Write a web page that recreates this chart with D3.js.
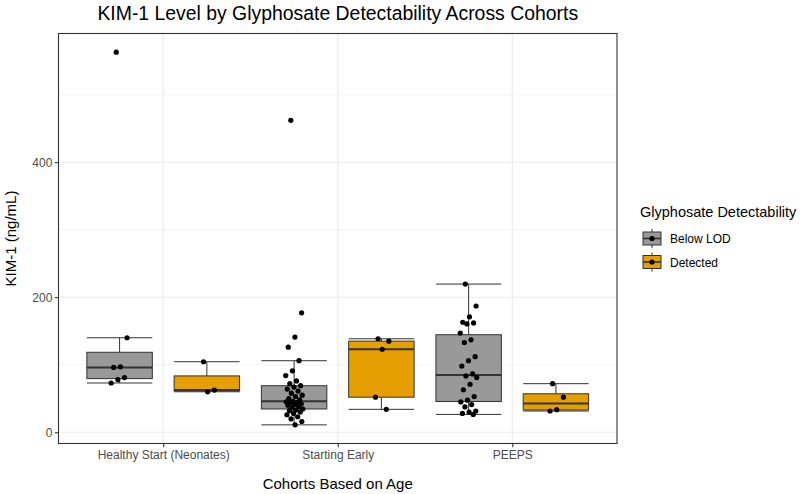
<!DOCTYPE html>
<html>
<head>
<meta charset="utf-8">
<script src="https://cdn.jsdelivr.net/npm/d3@7"></script>
<style>
  html, body { margin: 0; padding: 0; background: #fff; }
  svg { display: block; font-family: "Liberation Sans", Arial, sans-serif; }
</style>
</head>
<body>
<svg id="chart" width="800" height="494"></svg>
<script>
// ---------- data ----------
const cohorts = ["Healthy Start (Neonates)", "Starting Early", "PEEPS"];
const groups = ["Below LOD", "Detected"];
const groupColors = ["#999999", "#E69F00"];

const hsBelow = [563, 140, 97, 96, 81, 78, 73];
const hsDetected = [104.5, 62.5, 60];
const seBelow = [462, 177, 141, 126, 106, 91, 84, 76, 72, 69, 67, 64, 61, 58, 55, 53, 50, 48, 46, 45,
                 44, 43, 42, 41, 40, 38, 36, 34.5, 33, 32, 30, 28, 26, 23, 20, 16, 11];
const seDetected = [138.5, 135, 123, 52, 34];
const peepsBelow = [219.5, 187, 171, 163, 162, 160.5, 147, 137, 133, 112, 106, 98, 86.5, 83.5, 81, 71,
                    63, 53, 47.5, 45, 41, 37.5, 31.5, 30, 28, 26.5];
const peepsDetected = [72, 52, 33.5, 31.5];

const yTicks = [0, 200, 400];
const yMinor = [100, 300, 500];

const title = "KIM-1 Level by Glyphosate Detectability Across Cohorts";
const xTitle = "Cohorts Based on Age";
const yTitle = "KIM-1 (ng/mL)";
const legendTitle = "Glyphosate Detectability";

const series = [
  { cohort: cohorts[0], group: 0, values: hsBelow },
  { cohort: cohorts[0], group: 1, values: hsDetected },
  { cohort: cohorts[1], group: 0, values: seBelow },
  { cohort: cohorts[1], group: 1, values: seDetected },
  { cohort: cohorts[2], group: 0, values: peepsBelow },
  { cohort: cohorts[2], group: 1, values: peepsDetected }
];

// ---------- layout ----------
const svg = d3.select("#chart");
const panel = { left: 58.5, right: 617, top: 33.5, bottom: 443.5 };
const font = "'Liberation Sans', Arial, sans-serif";

const allVals = series.flatMap(s => s.values);
const ext = d3.extent(allVals);
const pad = (ext[1] - ext[0]) * 0.05;
const y = d3.scaleLinear().domain([ext[0] - pad, ext[1] + pad]).range([panel.bottom, panel.top]);

// discrete axis with ggplot's 0.6 expansion
const x = d3.scalePoint().domain(cohorts).range([panel.left, panel.right]).padding(0.6);
const step = x.step();
const dodge = d3.scaleBand().domain(groups.map((g, i) => i)).range([-step / 2, step / 2]);
const boxW = step * 0.375;

// ---------- panel background & grid ----------
svg.append("rect").attr("x", panel.left).attr("y", panel.top)
  .attr("width", panel.right - panel.left).attr("height", panel.bottom - panel.top)
  .attr("fill", "#fff");

const grid = svg.append("g");
grid.selectAll(".minor").data(yMinor).join("line")
  .attr("x1", panel.left).attr("x2", panel.right)
  .attr("y1", d => y(d)).attr("y2", d => y(d))
  .attr("stroke", "#EBEBEB").attr("stroke-width", 0.6);
grid.selectAll(".major").data(yTicks).join("line")
  .attr("x1", panel.left).attr("x2", panel.right)
  .attr("y1", d => y(d)).attr("y2", d => y(d))
  .attr("stroke", "#EBEBEB").attr("stroke-width", 1.1);
grid.selectAll(".vmajor").data(cohorts).join("line")
  .attr("x1", d => x(d)).attr("x2", d => x(d))
  .attr("y1", panel.top).attr("y2", panel.bottom)
  .attr("stroke", "#EBEBEB").attr("stroke-width", 1.1);

// ---------- box stats ----------
function stats(vals) {
  const s = vals.slice().sort(d3.ascending);
  const q1 = d3.quantile(s, 0.25), med = d3.quantile(s, 0.5), q3 = d3.quantile(s, 0.75);
  const iqr = q3 - q1;
  const lo = d3.min(s.filter(v => v >= q1 - 1.5 * iqr));
  const hi = d3.max(s.filter(v => v <= q3 + 1.5 * iqr));
  return { q1, med, q3, lo, hi };
}

const boxes = svg.append("g");
series.forEach(s => {
  const cx = x(s.cohort) + dodge(s.group) + dodge.bandwidth() / 2;
  const st = stats(s.values);
  const g = boxes.append("g");
  g.append("line").attr("x1", cx).attr("x2", cx).attr("y1", y(st.lo)).attr("y2", y(st.hi))
    .attr("stroke", "#333").attr("stroke-width", 1);
  [st.lo, st.hi].forEach(v => {
    g.append("line").attr("x1", cx - boxW / 2).attr("x2", cx + boxW / 2)
      .attr("y1", y(v)).attr("y2", y(v)).attr("stroke", "#333").attr("stroke-width", 1);
  });
  g.append("rect").attr("x", cx - boxW / 2).attr("width", boxW)
    .attr("y", y(st.q3)).attr("height", y(st.q1) - y(st.q3))
    .attr("fill", groupColors[s.group]).attr("stroke", "#333").attr("stroke-width", 1);
  g.append("line").attr("x1", cx - boxW / 2).attr("x2", cx + boxW / 2)
    .attr("y1", y(st.med)).attr("y2", y(st.med)).attr("stroke", "#333").attr("stroke-width", 2);
});

// ---------- jittered points (deterministic spread) ----------
const jitterW = step * 0.05;
const pts = svg.append("g");
series.forEach(s => {
  const cx = x(s.cohort) + dodge(s.group) + dodge.bandwidth() / 2;
  pts.selectAll(null).data(s.values).join("circle")
    .attr("cx", (d, i) => cx + (((i * 0.618034 + 0.31) % 1) - 0.5) * 2 * jitterW)
    .attr("cy", d => y(d))
    .attr("r", 2.6)
    .attr("fill", "#000");
});

// ---------- panel border ----------
svg.append("rect").attr("x", panel.left).attr("y", panel.top)
  .attr("width", panel.right - panel.left).attr("height", panel.bottom - panel.top)
  .attr("fill", "none").attr("stroke", "#333").attr("stroke-width", 1.1);

// ---------- axes ----------
const yAxis = d3.axisLeft(y).tickValues(yTicks).tickSize(3.7).tickPadding(2.5);
const yg = svg.append("g").attr("transform", `translate(${panel.left},0)`).call(yAxis);
yg.select(".domain").remove();
yg.selectAll(".tick line").attr("stroke", "#333").attr("stroke-width", 1.1);
yg.selectAll(".tick text").attr("fill", "#4D4D4D").style("font-size", "12px").style("font-family", font);

const xAxis = d3.axisBottom(x).tickSize(3.7).tickPadding(3);
const xg = svg.append("g").attr("transform", `translate(0,${panel.bottom})`).call(xAxis);
xg.select(".domain").remove();
xg.selectAll(".tick line").attr("stroke", "#333").attr("stroke-width", 1.1);
xg.selectAll(".tick text").attr("fill", "#4D4D4D").style("font-size", "12px").style("font-family", font);

// ---------- titles ----------
svg.append("text").attr("x", (panel.left + panel.right) / 2).attr("y", 20)
  .attr("text-anchor", "middle").style("font-size", "19.4px").attr("fill", "#000").text(title);
svg.append("text").attr("x", (panel.left + panel.right) / 2).attr("y", 489)
  .attr("text-anchor", "middle").style("font-size", "15px").attr("fill", "#000").text(xTitle);
svg.append("text").attr("transform", `translate(16,${(panel.top + panel.bottom) / 2}) rotate(-90)`)
  .attr("text-anchor", "middle").style("font-size", "15px").attr("fill", "#000").text(yTitle);

// ---------- legend ----------
const lg = svg.append("g").attr("transform", "translate(640,0)");
lg.append("text").attr("x", 0).attr("y", 217).style("font-size", "14.5px").attr("fill", "#000").text(legendTitle);
groups.forEach((g, i) => {
  const cy = 238.5 + i * 23.5;
  const kx = 3, kw = 18;
  const k = lg.append("g");
  k.append("line").attr("x1", kx + kw / 2).attr("x2", kx + kw / 2).attr("y1", cy - 9.5).attr("y2", cy + 9.5)
    .attr("stroke", "#333").attr("stroke-width", 1);
  k.append("rect").attr("x", kx).attr("y", cy - 6.5).attr("width", kw).attr("height", 13)
    .attr("fill", groupColors[i]).attr("stroke", "#333").attr("stroke-width", 1);
  k.append("line").attr("x1", kx).attr("x2", kx + kw).attr("y1", cy).attr("y2", cy)
    .attr("stroke", "#333").attr("stroke-width", 1.6);
  k.append("circle").attr("cx", kx + kw / 2).attr("cy", cy).attr("r", 2.6).attr("fill", "#000");
  lg.append("text").attr("x", 30).attr("y", cy + 4.5).style("font-size", "12px").attr("fill", "#000").text(g);
});
</script>
</body>
</html>
